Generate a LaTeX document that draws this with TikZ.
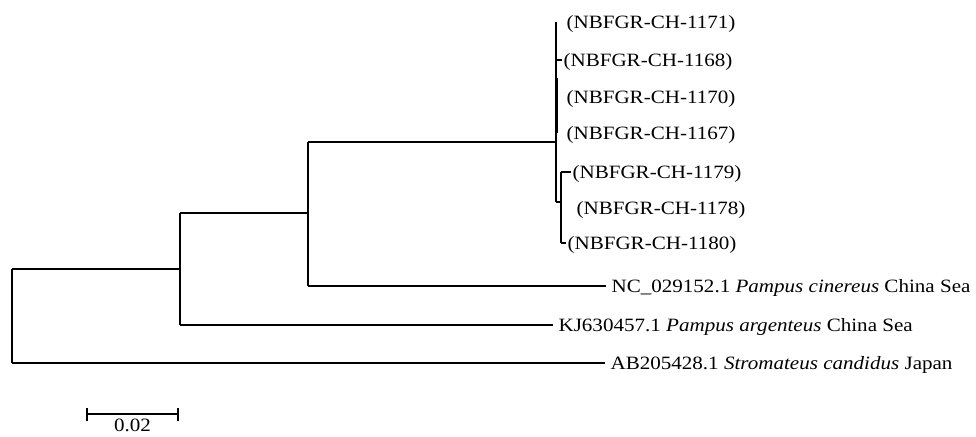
\documentclass[tikz,border=0pt]{standalone}
\usepackage{fontspec}
\setmainfont{Liberation Serif}[FakeStretch=1.12]
\tikzset{
  leaf/.style={anchor=west,inner sep=0pt,text height=12.4pt,text depth=0pt,
    font=\fontsize{18.8}{22}\selectfont},
  barlabel/.style={inner sep=0pt,text height=12.4pt,text depth=0pt,
    font=\fontsize{18.8}{22}\selectfont}
}
\begin{document}
\begin{tikzpicture}[x=1pt,y=-1pt,line width=1.1pt]
  \useasboundingbox (0,0) rectangle (976,436);
  % Leaves
  \node[leaf] (s1171) at (566,22) {(NBFGR-CH-1171)};
  \node[leaf] (s1168) at (563,60) {(NBFGR-CH-1168)};
  \node[leaf] (s1170) at (566,97) {(NBFGR-CH-1170)};
  \node[leaf] (s1167) at (566,133) {(NBFGR-CH-1167)};
  \node[leaf] (s1179) at (572,172) {(NBFGR-CH-1179)};
  \node[leaf] (s1178) at (576,208) {(NBFGR-CH-1178)};
  \node[leaf] (s1180) at (567,243) {(NBFGR-CH-1180)};
  \node[leaf] (nc) at (611,286) {NC\_029152.1 \textit{Pampus cinereus} China Sea};
  \node[leaf] (kj) at (558,325) {KJ630457.1 \textit{Pampus argenteus} China Sea};
  \node[leaf] (ab) at (610,363) {AB205428.1 \textit{Stromateus candidus} Japan};
  % Internal nodes
  \coordinate (n0) at (12,316);
  \coordinate (n1) at (180,269);
  \coordinate (n2) at (308,213);
  \coordinate (n3) at (556,142);
  \coordinate (n4) at (561,202);
  \coordinate (n5) at (557,78);
  % Vertical branches
  \draw (n0 |- n1) -- (n0 |- ab.west);
  \draw (n1 |- n2) -- (n1 |- kj.west);
  \draw (n2 |- n3) -- (n2 |- nc.west);
  \draw (n3 |- s1171.west) -- (n3 |- n4);
  \draw (n4 |- s1179.west) -- (n4 |- s1180.west);
  \draw[line width=2pt] (n5) -- (n5 |- s1167.west);
  % Horizontal branches
  \draw (n0 |- n1) -- (n1);
  \draw (n0 |- ab.west) -- ([xshift=-5pt]ab.west);
  \draw (n1 |- n2) -- (n2);
  \draw (n1 |- kj.west) -- ([xshift=-5pt]kj.west);
  \draw (n2 |- n3) -- (n3);
  \draw (n2 |- nc.west) -- ([xshift=-5pt]nc.west);
  \draw (n3 |- n4) -- (n4);
  \draw (n3 |- s1168.west) -- ([xshift=-1pt]s1168.west);
  \draw (n4 |- s1179.west) -- ([xshift=-1pt]s1179.west);
  \draw (n4 |- s1180.west) -- ([xshift=-1pt]s1180.west);
  % Scale bar
  \coordinate (sbl) at (87,414);
  \coordinate (sbr) at (178,414);
  \draw (sbl) -- (sbr);
  \draw ([yshift=-7pt]sbl) -- ([yshift=6pt]sbl);
  \draw ([yshift=-7pt]sbr) -- ([yshift=6pt]sbr);
  \node[barlabel] (sbtext) at (132.5,425.5) {0.02};
\end{tikzpicture}
\end{document}
